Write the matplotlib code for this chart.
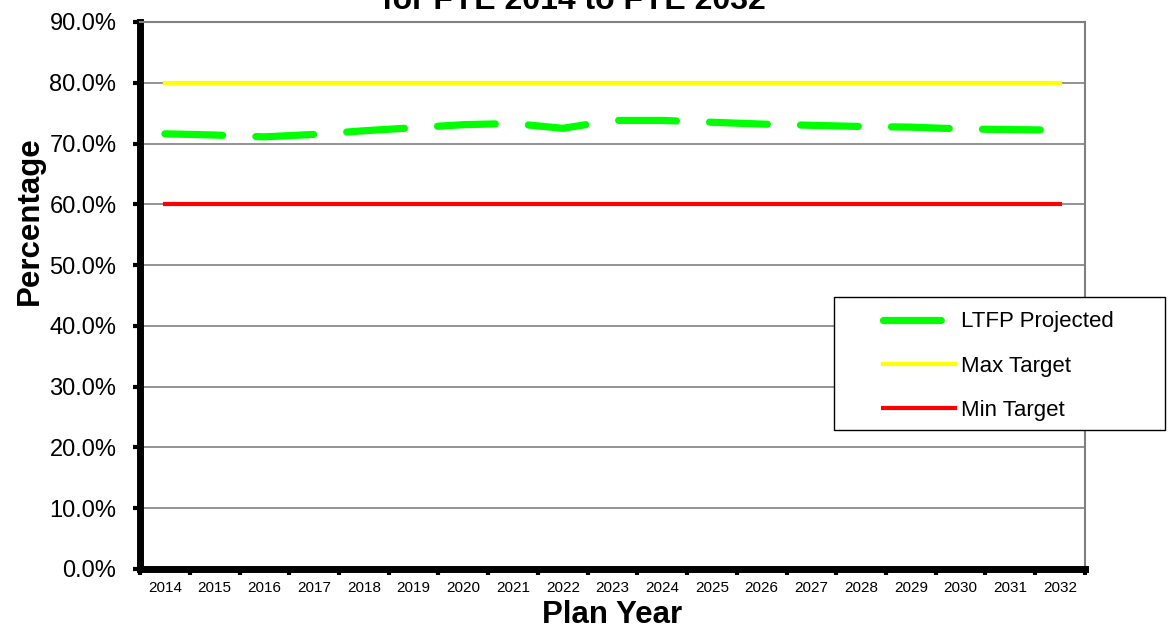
import numpy as np
import matplotlib
matplotlib.use("Agg")
import matplotlib.pyplot as plt
from matplotlib.patches import Rectangle

plt.rcParams['font.family'] = ['Liberation Sans', 'DejaVu Sans']

years = [str(y) for y in range(2014, 2033)]
ltfp_projected = [71.6, 71.4, 71.1, 71.5, 72.1, 72.6, 73.1, 73.3, 72.5, 73.8,
                  73.8, 73.5, 73.2, 73.0, 72.8, 72.7, 72.4, 72.3, 72.2]
max_target = [80.0] * len(years)
min_target = [60.0] * len(years)
y_ticks = np.arange(0, 91, 10)


def main():
    fig = plt.figure(figsize=(11.69, 6.28), dpi=100)
    ax = fig.add_axes([0.1198, 0.094, 0.8083, 0.871])
    x = np.arange(len(years))

    ax.plot(x, ltfp_projected, color='#00FF00', lw=5.2, solid_capstyle='round',
            dash_capstyle='round', linestyle=(0, (8, 4.6)), label='LTFP Projected', zorder=3)
    ax.plot(x, max_target, color='#FFFF00', lw=3, label='Max Target', zorder=3)
    ax.plot(x, min_target, color='#FF0000', lw=3, label='Min Target', zorder=3)

    ax.set_xlim(-0.5, len(years) - 0.5)
    ax.set_ylim(0, 90)
    ax.set_yticks(y_ticks)
    ax.set_yticklabels([f'{v:.1f}%' for v in y_ticks], fontsize=17)
    ax.yaxis.grid(True, color='#808080', lw=1.2)
    ax.set_axisbelow(True)

    # category labels sit between ticks, ticks mark the boundaries
    ax.set_xticks(x)
    ax.set_xticklabels(years, fontsize=11)
    ax.set_xticks(np.arange(len(years) + 1) - 0.5, minor=True)
    ax.tick_params(axis='x', which='major', length=0, pad=9)
    ax.tick_params(axis='x', which='minor', length=4, width=3, color='black')
    ax.tick_params(axis='y', length=5, width=3, color='black', pad=12)

    for side in ('left', 'bottom'):
        ax.spines[side].set_linewidth(5)
        ax.spines[side].set_color('black')
    for side in ('top', 'right'):
        ax.spines[side].set_linewidth(1.5)
        ax.spines[side].set_color('#808080')

    ax.set_ylabel('Percentage', fontsize=22.5, fontweight='bold', labelpad=3)
    ax.yaxis.label.set_y(0.636)
    ax.set_xlabel('Plan Year', fontsize=22.5, fontweight='bold', labelpad=3)

    fig.text(0.491, 0.9857, 'for FYE 2014 to FYE 2032', ha='center', va='baseline',
             fontsize=23, fontweight='bold')

    # legend box hangs past the right edge of the plot area
    box = Rectangle((0.734, 0.254), 0.351, 0.243, transform=ax.transAxes,
                    facecolor='white', edgecolor='black', lw=1, clip_on=False, zorder=4)
    ax.add_patch(box)
    leg = ax.legend(loc='upper left', bbox_to_anchor=(0.786, 0.471), frameon=False,
                    fontsize=16, handlelength=3.25, handletextpad=0.25,
                    labelspacing=1.05, borderpad=0, borderaxespad=0)
    leg.set_zorder(5)

    fig.savefig('out.png', dpi=100)


if __name__ == "__main__":
    main()
